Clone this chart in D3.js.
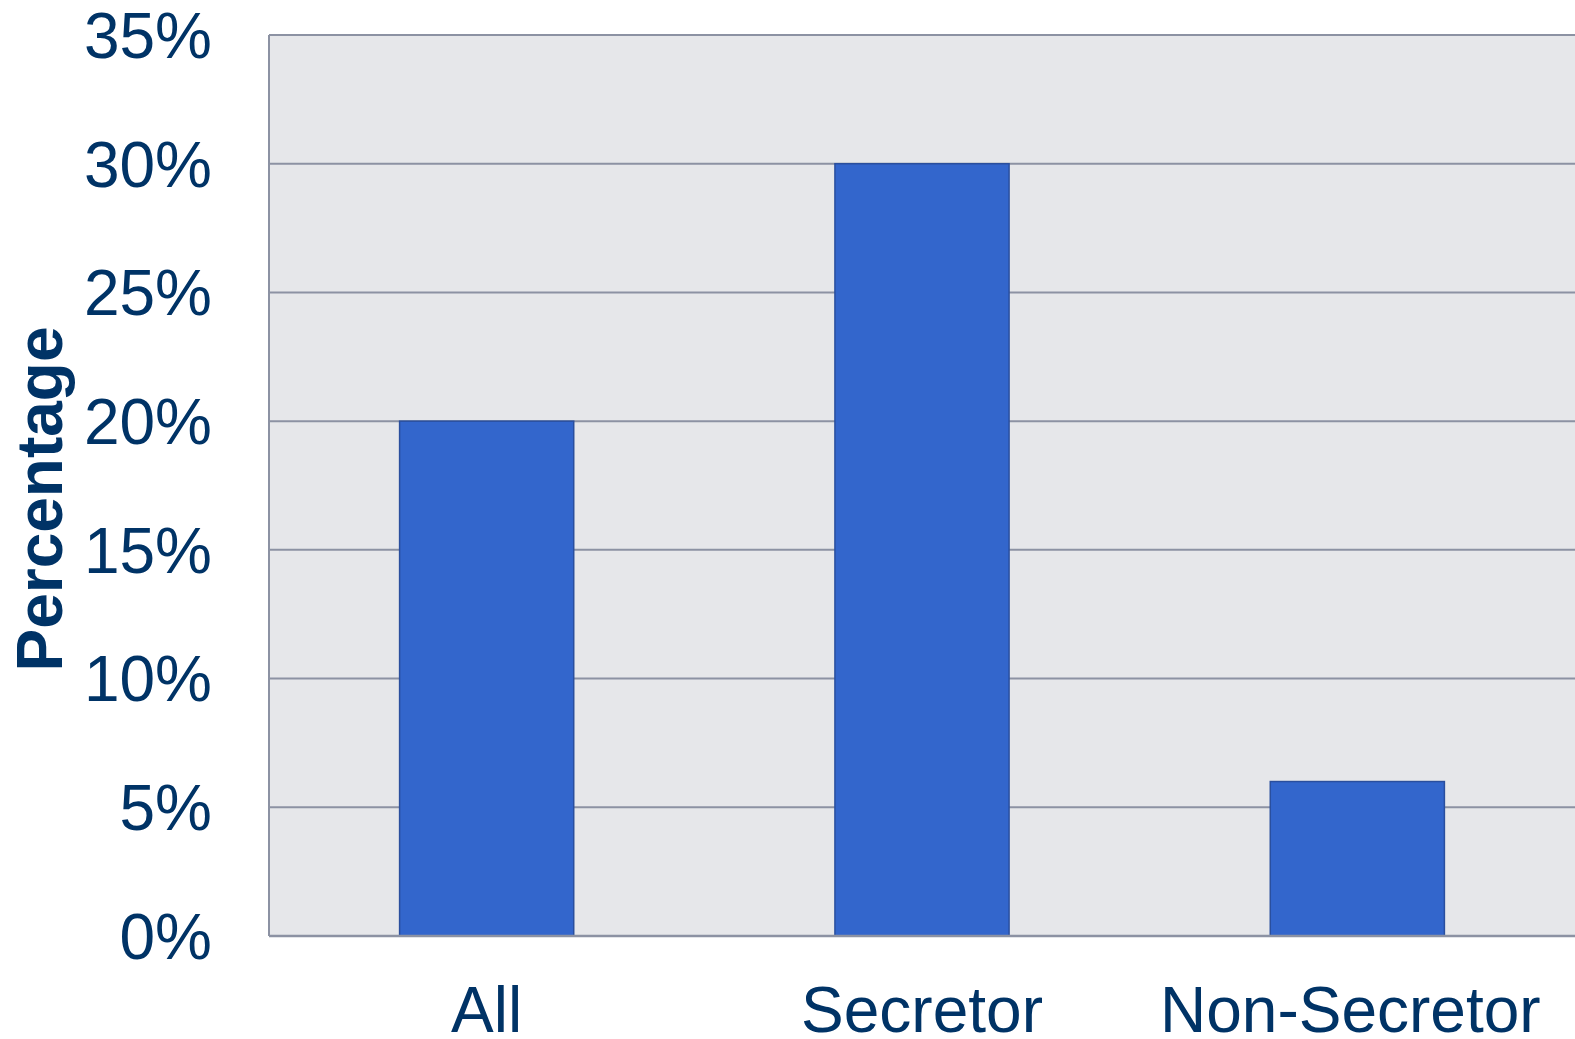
<!DOCTYPE html>
<html>
<head>
<meta charset="utf-8">
<script src="https://cdn.jsdelivr.net/npm/d3@7"></script>
<style>
  body { margin: 0; background: #fff; }
  svg text { font-family: "Liberation Sans", Arial, sans-serif; fill: #003366; }
</style>
</head>
<body>
<svg id="chart" width="1575" height="1039"></svg>
<script>
// data
const categories = ['All', 'Secretor', 'Non-Secretor'];
const values = [0.20, 0.30, 0.06];
const yTicks = [0, 0.05, 0.10, 0.15, 0.20, 0.25, 0.30, 0.35];

const margin = {top: 35, right: 0, bottom: 103, left: 269};
const width = 1575, height = 1039;

const svg = d3.select('svg#chart');

const x = d3.scaleBand()
  .domain(categories)
  .range([margin.left, width - margin.right])
  .paddingInner(0.6)
  .paddingOuter(0.3);

const y = d3.scaleLinear()
  .domain([0, 0.35])
  .range([height - margin.bottom, margin.top]);

// plot background
svg.append('rect')
  .attr('x', margin.left)
  .attr('y', margin.top)
  .attr('width', width - margin.right - margin.left)
  .attr('height', y(0) - margin.top)
  .attr('fill', '#e6e7ea');

// gridlines
svg.append('g')
  .selectAll('line')
  .data(yTicks)
  .join('line')
  .attr('x1', margin.left)
  .attr('x2', width - margin.right)
  .attr('y1', d => y(d))
  .attr('y2', d => y(d))
  .attr('stroke', '#8c92a3')
  .attr('stroke-width', 2);

// left axis line
svg.append('line')
  .attr('x1', margin.left).attr('x2', margin.left)
  .attr('y1', margin.top).attr('y2', y(0))
  .attr('stroke', '#8c92a3')
  .attr('stroke-width', 2);

// bars
svg.append('g')
  .selectAll('rect')
  .data(values)
  .join('rect')
  .attr('x', (d, i) => x(categories[i]))
  .attr('y', d => y(d))
  .attr('width', x.bandwidth())
  .attr('height', d => y(0) - y(d))
  .attr('fill', '#3366cc')
  .attr('stroke', '#2a4f9e')
  .attr('stroke-width', 1.5);

// baseline on top
svg.append('line')
  .attr('x1', margin.left).attr('x2', width - margin.right)
  .attr('y1', y(0)).attr('y2', y(0))
  .attr('stroke', '#8c92a3')
  .attr('stroke-width', 2.5);

// y tick labels
const yAxis = d3.axisLeft(y)
  .tickValues(yTicks)
  .tickFormat(d3.format('.0%'))
  .tickSize(0)
  .tickPadding(57);

svg.append('g')
  .attr('transform', `translate(${margin.left},0)`)
  .call(yAxis)
  .call(g => g.select('.domain').remove())
  .selectAll('text')
  .attr('font-size', 64)
  .attr('font-family', null)
  .attr('dy', '0.35em');

// x labels (last one nudged in so it stays clear of the right edge)
const xAxis = d3.axisBottom(x).tickSize(0).tickPadding(51);
svg.append('g')
  .attr('transform', `translate(0,${y(0)})`)
  .call(xAxis)
  .call(g => g.select('.domain').remove())
  .selectAll('text')
  .attr('font-size', 64)
  .attr('font-family', null)
  .attr('dy', '0.71em')
  .attr('dx', (d, i) => (i === categories.length - 1 ? -7 : 0));

// y title
svg.append('text')
  .attr('transform', 'translate(62,499) rotate(-90)')
  .attr('text-anchor', 'middle')
  .attr('font-size', 64)
  .attr('font-weight', 'bold')
  .text('Percentage');
</script>
</body>
</html>
